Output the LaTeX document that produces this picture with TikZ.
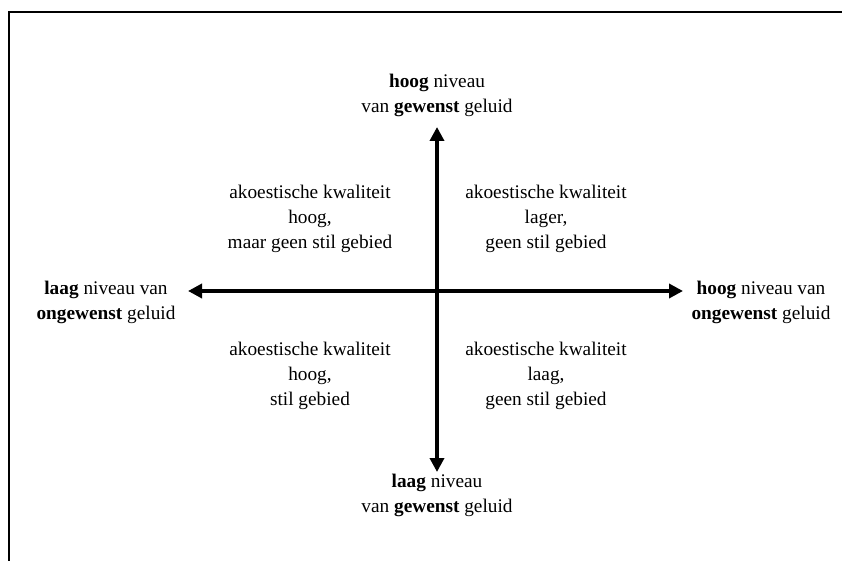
\documentclass[tikz,border=0pt]{standalone}
\usepackage{fontspec}
\setmainfont{Liberation Serif}
\usetikzlibrary{arrows.meta}
\begin{document}
\begin{tikzpicture}[x=1pt,y=-1pt,
  lbl/.style={align=center,font=\fontsize{19.3}{25}\selectfont,inner sep=0pt,anchor=base},
  axis/.style={line width=4pt,{Triangle[length=14pt,width=14pt]}-{Triangle[length=14pt,width=14pt]}},
  frame/.style={line width=1.3pt}]
\useasboundingbox (0,0) rectangle (842,561);
% open frame: top and left edges only
\draw[frame] (9,561) -- (9,12) -- (842,12);
% axis end points
\coordinate (c) at (437,291);
\coordinate (n) at (437,127);
\coordinate (s) at (437,472);
\coordinate (w) at (188,291);
\coordinate (e) at (683,291);
\draw[axis] (w) -- (e);
\draw[axis] (s) -- (n);
% axis labels (placed by the baseline of their last line)
\node[lbl] (top) at (437,113) {\textbf{hoog} niveau\\van \textbf{gewenst} geluid};
\node[lbl] (bottom) at (437,512) {\textbf{laag} niveau\\van \textbf{gewenst} geluid};
\node[lbl] (left) at (106,319) {\textbf{laag} niveau van\\\textbf{ongewenst} geluid};
\node[lbl] (right) at (761,319) {\textbf{hoog} niveau van\\\textbf{ongewenst} geluid};
% quadrant descriptions
\node[lbl] (tl) at (310,248) {akoestische kwaliteit\\hoog,\\maar geen stil gebied};
\node[lbl] (tr) at (546,248) {akoestische kwaliteit\\lager,\\geen stil gebied};
\node[lbl] (bl) at (310,405) {akoestische kwaliteit\\hoog,\\stil gebied};
\node[lbl] (br) at (546,405) {akoestische kwaliteit\\laag,\\geen stil gebied};
\end{tikzpicture}
\end{document}
